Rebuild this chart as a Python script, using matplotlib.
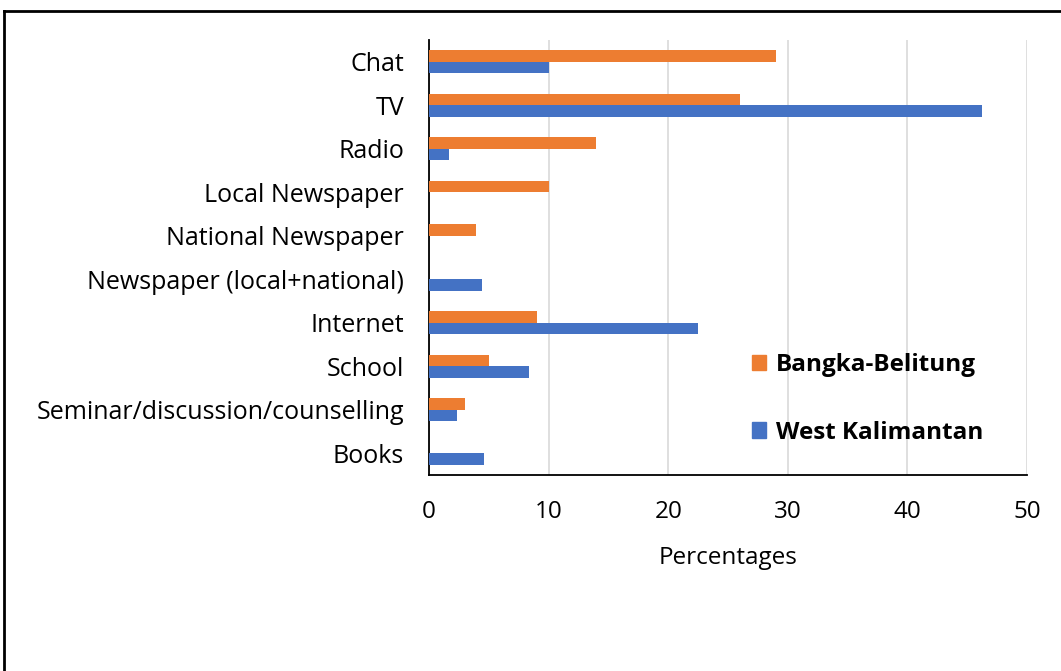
import numpy as np
import matplotlib.pyplot as plt
from matplotlib.patches import Patch
from matplotlib.lines import Line2D

plt.rcParams['font.family'] = ['Open Sans', 'DejaVu Sans']

# Information sources, listed top to bottom
sources = ['Chat', 'TV', 'Radio', 'Local Newspaper', 'National Newspaper',
           'Newspaper (local+national)', 'Internet', 'School',
           'Seminar/discussion/counselling', 'Books']
bangka_belitung = [29, 26, 14, 10, 3.9, 0, 9, 5, 3, 0]
west_kalimantan = [10, 46.2, 1.7, 0, 0, 4.4, 22.5, 8.4, 2.3, 4.6]

orange = '#ED7D31'
blue = '#4472C4'

fig = plt.figure(figsize=(10.61, 6.71), dpi=100)
ax = fig.add_axes([429 / 1061, 1 - 475 / 671, (1027 - 429) / 1061, (475 - 40) / 671])

y = np.arange(len(sources))
h = 0.265
ax.barh(y - h / 2, bangka_belitung, height=h, color=orange, zorder=3)
ax.barh(y + h / 2, west_kalimantan, height=h, color=blue, zorder=3)

ax.set_ylim(len(sources) - 0.5, -0.5)
ax.set_xlim(0, 50)
ax.set_xticks(range(0, 51, 10))
ax.set_yticks(y)
ax.set_yticklabels(sources, fontsize=18)
ax.tick_params(axis='x', labelsize=17.5, length=0, pad=18)
ax.tick_params(axis='y', length=0, pad=18)
ax.xaxis.grid(True, color='#D9D9D9', linewidth=1.2, zorder=0)
ax.set_xlabel('Percentages', fontsize=17.5, labelpad=16)

for side in ['top', 'right']:
    ax.spines[side].set_visible(False)
ax.spines['left'].set_linewidth(1.3)
ax.spines['bottom'].set_linewidth(1.3)

handles = [Patch(color=orange, label='Bangka-Belitung'),
           Patch(color=blue, label='West Kalimantan')]
leg = fig.legend(handles=handles, loc='upper left',
                 bbox_to_anchor=(730 / 1061, 1 - 331 / 671),
                 frameon=False, prop={'weight': 'bold', 'size': 17.5},
                 labelspacing=1.8, handlelength=0.6, handleheight=0.6,
                 handletextpad=0.4)

# outer frame around the chart (left and top edges)
fig.add_artist(Line2D([4 / 1061, 4 / 1061], [0, 1 - 11 / 671],
                      color='black', linewidth=2, transform=fig.transFigure))
fig.add_artist(Line2D([4 / 1061, 1], [1 - 11 / 671, 1 - 11 / 671],
                      color='black', linewidth=2, transform=fig.transFigure))

fig.savefig('out.png', dpi=100)
